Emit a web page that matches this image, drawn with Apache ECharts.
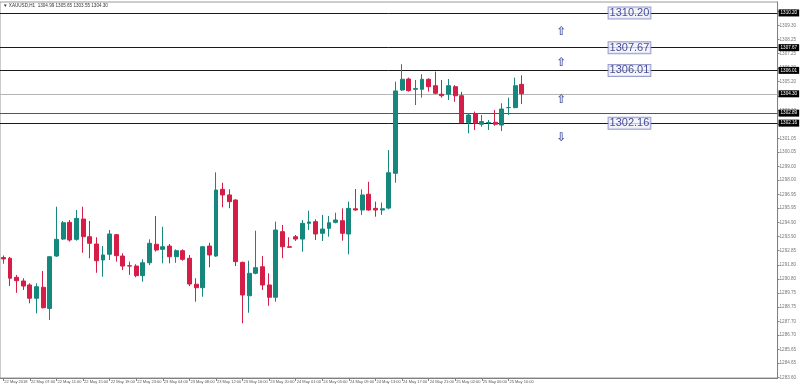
<!DOCTYPE html>
<html><head><meta charset="utf-8">
<script src="https://cdn.jsdelivr.net/npm/echarts@6/dist/echarts.min.js"></script>
<style>html,body{margin:0;padding:0;background:#fff}#c{width:800px;height:387px}</style>
</head><body><div id="c"></div><script>
const symbolName = 'XAUUSD,H1';
const xTickLabels = ['22 May 2018','22 May 07:00','22 May 11:00','22 May 15:00','22 May 19:00','22 May 23:00',
  '23 May 04:00','23 May 08:00','23 May 12:00','23 May 16:00','23 May 20:00','24 May 01:00','24 May 05:00',
  '24 May 09:00','24 May 13:00','24 May 17:00','24 May 21:00','25 May 02:00','25 May 06:00','25 May 10:00'];
const opens = [1292.35,1292.30,1290.91,1290.64,1290.35,1289.38,1290.18,1288.64,1292.46,1293.70,
  1294.92,1293.68,1295.16,1293.87,1293.34,1292.17,1292.59,1294.02,1292.46,1291.75,
  1291.73,1291.03,1291.97,1293.32,1292.95,1293.19,1292.41,1292.85,1292.30,1290.40,
  1290.15,1293.19,1292.46,1297.33,1296.92,1296.55,1292.00,1289.56,1291.20,1291.68,
  1290.35,1289.45,1294.24,1293.14,1293.87,1293.70,1294.85,1294.97,1294.12,1294.48,
  1294.92,1295.04,1294.07,1295.91,1295.82,1296.97,1295.94,1295.82,1295.96,1298.50,
  1304.58,1305.38,1304.63,1304.63,1305.36,1304.89,1304.27,1304.27,1304.82,1304.16,
  1302.19,1302.83,1302.08,1302.19,1302.22,1302.02,1303.29,1303.29,1304.99];
const highs = [1292.50,1292.40,1291.08,1290.84,1290.47,1290.47,1291.37,1292.45,1296.06,1295.02,
  1295.09,1295.82,1296.06,1295.02,1293.83,1293.19,1294.36,1294.07,1292.66,1292.05,
  1291.86,1292.22,1293.68,1295.38,1294.60,1293.34,1292.95,1292.95,1292.54,1290.84,
  1293.20,1293.43,1298.57,1297.81,1297.33,1296.60,1292.05,1292.12,1294.31,1292.46,
  1291.20,1294.97,1294.73,1293.83,1294.00,1295.09,1295.77,1295.14,1295.46,1295.38,
  1295.62,1295.94,1296.43,1297.35,1297.33,1297.88,1296.43,1296.36,1300.20,1305.19,
  1306.46,1305.48,1305.31,1305.73,1305.43,1305.92,1305.31,1305.38,1304.94,1304.45,
  1302.87,1303.00,1302.75,1302.39,1303.12,1303.61,1304.02,1305.48,1305.65];
const lows = [1291.90,1290.27,1289.78,1289.98,1289.01,1288.28,1288.64,1287.79,1292.40,1293.63,
  1293.51,1293.58,1292.70,1292.30,1291.24,1290.95,1292.17,1292.05,1291.44,1291.08,
  1290.91,1290.59,1291.80,1292.78,1291.93,1291.93,1291.97,1292.12,1290.27,1289.13,
  1289.49,1291.64,1292.40,1296.02,1295.95,1291.73,1287.55,1288.32,1291.13,1289.98,
  1288.83,1289.13,1292.30,1293.05,1293.56,1292.78,1294.36,1293.63,1293.56,1293.87,
  1294.85,1293.58,1292.59,1295.77,1295.46,1295.77,1295.33,1295.46,1295.87,1297.81,
  1304.51,1304.46,1303.48,1304.02,1304.46,1304.27,1304.02,1303.85,1303.72,1302.15,
  1301.42,1301.66,1301.90,1301.66,1301.97,1301.58,1302.75,1303.25,1303.55];
const closes = [1292.25,1290.84,1290.66,1290.27,1289.38,1290.22,1288.69,1292.41,1293.68,1294.89,
  1293.63,1295.21,1293.87,1293.39,1292.12,1292.54,1294.07,1292.49,1291.73,1291.73,
  1291.03,1291.97,1293.39,1292.90,1293.14,1292.41,1292.85,1292.22,1290.42,1290.15,
  1293.14,1292.54,1297.28,1296.92,1296.43,1292.05,1289.62,1291.20,1291.61,1290.35,
  1289.45,1294.36,1293.14,1293.10,1293.70,1294.85,1294.95,1294.07,1294.43,1294.89,
  1295.09,1294.12,1295.94,1295.82,1296.92,1295.82,1295.82,1295.91,1298.54,1304.51,
  1305.36,1304.53,1304.68,1305.36,1304.82,1304.34,1304.16,1304.89,1304.16,1302.19,
  1302.75,1302.15,1302.27,1302.21,1302.08,1303.19,1303.30,1304.89,1304.30];
const yTickValues = [1283.60,1284.65,1285.65,1286.70,1287.70,1288.75,1289.75,1290.80,1291.80,1292.85,
  1293.90,1294.90,1295.95,1296.95,1298.00,1299.00,1300.05,1301.05,1302.10,1303.10,1304.15,1305.20,
  1306.20,1307.25,1308.25,1309.30,1310.30];
const levelLines = [1310.20, 1307.67, 1306.01, 1302.89, 1302.16];
const boxedLevels = [1310.20, 1307.67, 1306.01, 1302.16];
const currentPrice = 1304.30;
const arrowUpValues = [1308.83, 1306.55, 1303.85];
const arrowDownValues = [1301.05];
const arrowSlot = 84;
const boxSlot = 91;
const totalSlots = 117;

const GREEN = '#15877c', RED = '#d51e47';
const categories = Array.from({length: totalSlots}, (_, i) => 'b' + i);
const lastBar = opens.length - 1;
const candleData = opens.map((o, i) => [o, closes[i], lows[i], highs[i]]);
const showTick = (i) => i % 4 === 0 && i / 4 < xTickLabels.length;

const lineData = levelLines.map(v => ({
  yAxis: v,
  lineStyle: {color: v === 1302.89 ? '#555' : '#1a1a1a', width: 1, type: 'solid'}
}));
lineData.push({yAxis: currentPrice, lineStyle: {color: '#b4b4b4', width: 1, type: 'solid'}});

const chart = echarts.init(document.getElementById('c'), null, {renderer: 'canvas'});
chart.setOption({
  animation: false,
  backgroundColor: '#fff',
  grid: {left: -4.04, right: 22.44, top: 2, bottom: 9, show: true, borderColor: '#9a9a9a', borderWidth: 1},
  xAxis: {
    type: 'category', data: categories, boundaryGap: true,
    axisLine: {show: true, lineStyle: {color: '#808080', width: 1}},
    axisTick: {show: true, alignWithLabel: true, interval: (i) => showTick(i), length: 3, lineStyle: {color: '#808080'}},
    axisLabel: {show: true, interval: (i) => showTick(i), formatter: (v, i) => showTick(i) ? xTickLabels[i / 4] : '',
      fontSize: 4, color: '#555', align: 'left', margin: 2, padding: [0, 0, 0, 1], fontFamily: 'Liberation Sans'},
    splitLine: {show: false}
  },
  yAxis: {
    type: 'value', position: 'right', min: 1283.56, max: 1311.00, scale: true,
    axisLine: {show: true, lineStyle: {color: '#808080', width: 1}},
    axisTick: {show: true, length: 2, customValues: yTickValues, lineStyle: {color: '#808080'}},
    axisLabel: {show: true, customValues: yTickValues, formatter: (v) => v.toFixed(2), fontSize: 4.6, color: '#777', margin: 2, fontFamily: 'Liberation Sans'},
    splitLine: {show: false}
  },
  graphic: [{
    type: 'text', left: 3, top: 3,
    style: {text: '\u25BC ' + symbolName + '  ' + [opens[lastBar], highs[lastBar], lows[lastBar], closes[lastBar]].map(v => v.toFixed(2)).join(' '),
      fontSize: 4.6, fill: '#333', fontFamily: 'Liberation Sans'}
  }],
  series: [{
    type: 'candlestick', name: symbolName, data: candleData, barWidth: 4.4, z: 2,
    itemStyle: {color: GREEN, color0: RED, borderColor: GREEN, borderColor0: RED, borderWidth: 1},
    markLine: {
      silent: true, symbol: ['none', 'none'], animation: false, z: 1,
      label: {show: true, position: 'end', distance: 1, formatter: (p) => Number(p.value).toFixed(2),
        backgroundColor: '#000', color: '#fff', fontSize: 4.6, padding: [1, 2, 1, 2], fontFamily: 'Liberation Sans'},
      data: lineData
    }
  }, {
    type: 'scatter', name: 'levels', symbolSize: 1, itemStyle: {color: 'rgba(0,0,0,0)'}, silent: true, z: 10, zlevel: 1,
    data: boxedLevels.map(v => [boxSlot, v]),
    label: {show: true, position: 'right', distance: 0, formatter: (p) => p.value[1].toFixed(2),
      fontSize: 11, lineHeight: 11, color: '#1a237e', backgroundColor: '#f2f2fb', borderColor: '#7f86c2', borderWidth: 1,
      padding: [0, 1, 0, 1], fontFamily: 'Liberation Sans'}
  }, {
    type: 'scatter', name: 'arrows', symbolSize: 1, itemStyle: {color: 'rgba(0,0,0,0)'}, silent: true, z: 10, zlevel: 1,
    data: arrowUpValues.map(v => [arrowSlot, v, '\u21E7']).concat(arrowDownValues.map(v => [arrowSlot, v, '\u21E9'])),
    label: {show: true, position: 'inside', formatter: (p) => p.value[2], fontSize: 12, fontWeight: 'bold', color: '#1f2f96', fontFamily: 'DejaVu Sans'}
  }]
});
</script></body></html>
